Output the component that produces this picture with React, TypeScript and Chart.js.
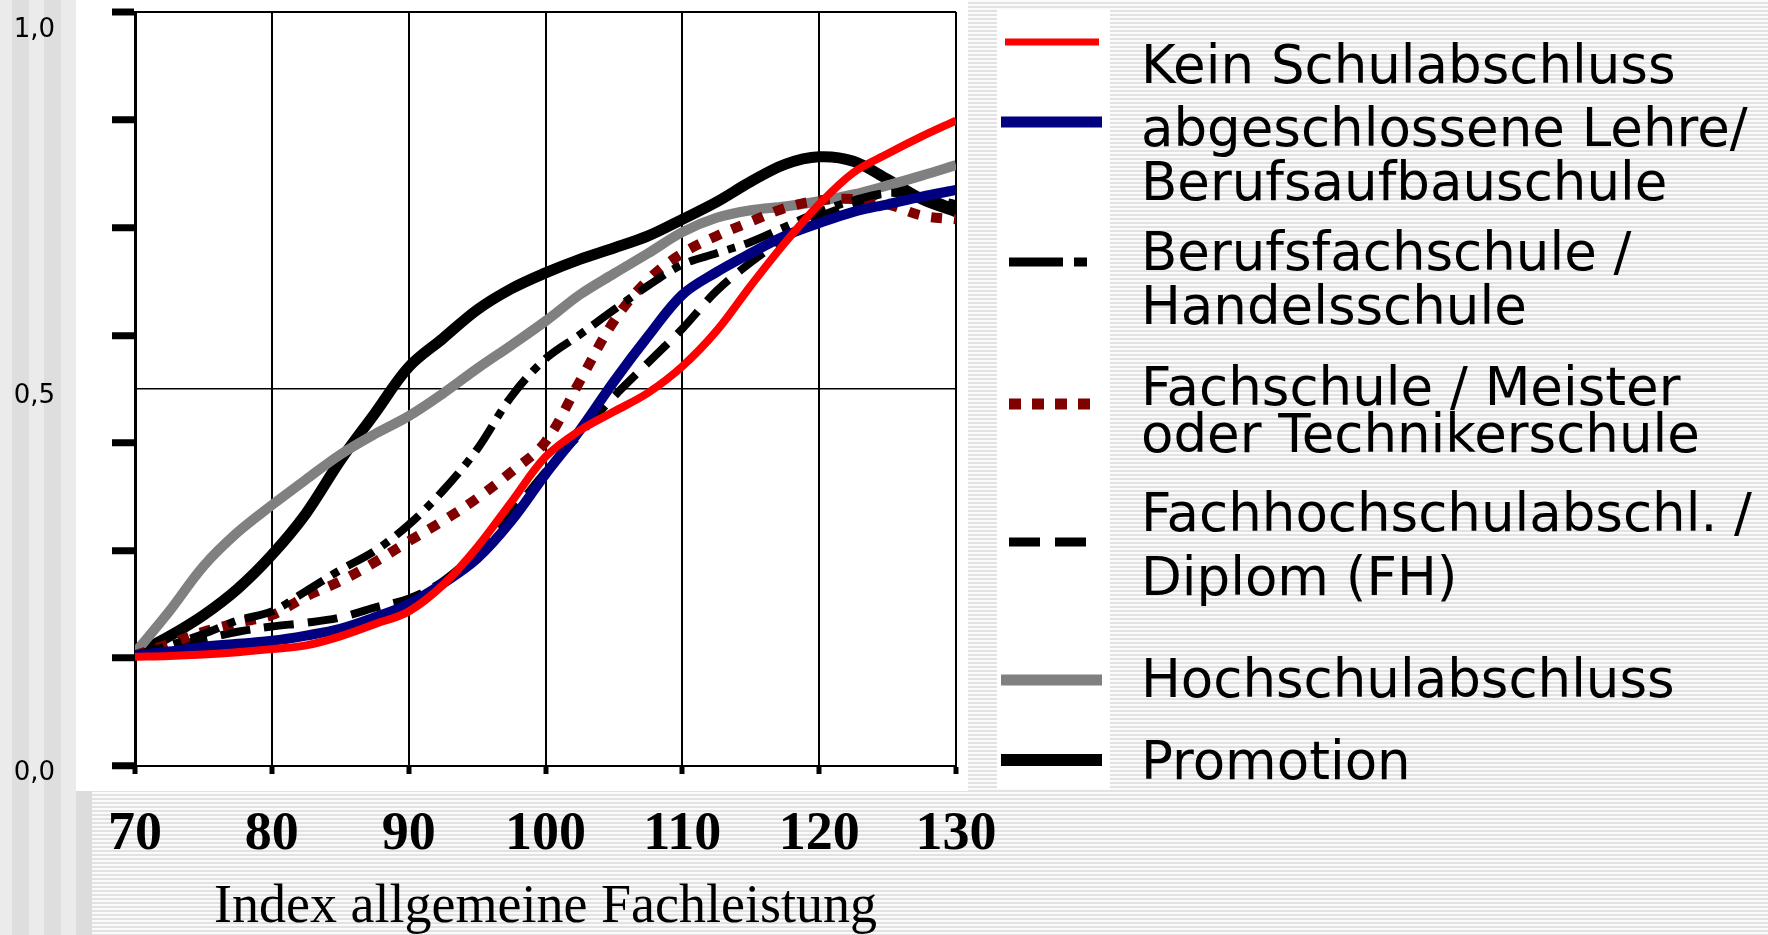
import React, { useEffect, useRef } from 'react';
import { Chart, registerables } from 'chart.js';

Chart.register(...registerables);

// ---- data ----
const xValues = [70, 72.5, 75, 77.5, 80, 82.5, 85, 87.5, 90, 92.5, 95, 97.5, 100, 102.5, 105, 107.5, 110, 112.5, 115, 117.5, 120, 122.5, 125, 127.5, 130];

const keinSchulabschluss = [0.145, 0.146, 0.148, 0.151, 0.155, 0.160, 0.172, 0.188, 0.205, 0.240, 0.290, 0.350, 0.410, 0.445, 0.470, 0.495, 0.530, 0.577, 0.637, 0.694, 0.745, 0.787, 0.812, 0.835, 0.856];
const lehre = [0.147, 0.152, 0.158, 0.162, 0.166, 0.173, 0.182, 0.197, 0.215, 0.242, 0.275, 0.325, 0.387, 0.445, 0.510, 0.570, 0.625, 0.655, 0.680, 0.703, 0.720, 0.735, 0.745, 0.755, 0.764];
const berufsfachschule = [0.147, 0.160, 0.175, 0.193, 0.205, 0.232, 0.260, 0.285, 0.320, 0.365, 0.420, 0.490, 0.540, 0.572, 0.605, 0.637, 0.665, 0.680, 0.695, 0.715, 0.735, 0.750, 0.760, 0.755, 0.745];
const fachschule = [0.147, 0.162, 0.178, 0.190, 0.200, 0.225, 0.245, 0.270, 0.298, 0.325, 0.355, 0.390, 0.430, 0.510, 0.590, 0.645, 0.680, 0.703, 0.722, 0.740, 0.750, 0.752, 0.745, 0.730, 0.725];
const fachhochschule = [0.147, 0.158, 0.168, 0.178, 0.185, 0.190, 0.197, 0.210, 0.222, 0.245, 0.285, 0.335, 0.390, 0.440, 0.490, 0.535, 0.580, 0.630, 0.668, 0.700, 0.728, 0.745, 0.760, 0.755, 0.740];
const hochschule = [0.150, 0.205, 0.265, 0.310, 0.346, 0.380, 0.413, 0.440, 0.464, 0.494, 0.527, 0.558, 0.590, 0.625, 0.653, 0.680, 0.708, 0.727, 0.737, 0.742, 0.749, 0.758, 0.770, 0.783, 0.797];
const promotion = [0.148, 0.172, 0.200, 0.235, 0.280, 0.335, 0.405, 0.467, 0.529, 0.567, 0.605, 0.633, 0.654, 0.672, 0.687, 0.703, 0.725, 0.748, 0.775, 0.798, 0.808, 0.802, 0.778, 0.752, 0.735];

const seriesNames = [
  'Kein Schulabschluss',
  'abgeschlossene Lehre/ Berufsaufbauschule',
  'Berufsfachschule / Handelsschule',
  'Fachschule / Meister oder Technikerschule',
  'Fachhochschulabschl. / Diplom (FH)',
  'Hochschulabschluss',
  'Promotion',
];
const seriesValues = [keinSchulabschluss, lehre, berufsfachschule, fachschule, fachhochschule, hochschule, promotion];

const legendTextLines = [
  ['Kein Schulabschluss'],
  ['abgeschlossene Lehre/', 'Berufsaufbauschule'],
  ['Berufsfachschule /', 'Handelsschule'],
  ['Fachschule / Meister', 'oder Technikerschule'],
  ['Fachhochschulabschl. /', 'Diplom (FH)'],
  ['Hochschulabschluss'],
  ['Promotion'],
];

const xTicks = [70, 80, 90, 100, 110, 120, 130];
const yMarkTicks = [0, 0.143, 0.286, 0.429, 0.571, 0.714, 0.857, 1];
const yLabelTicks = [0, 0.5, 1];
const yLabelTexts = ['0,0', '0,5', '1,0'];
const xTitle = 'Index allgemeine Fachleistung';

// ---- styles ----
const colors = ['#ff0000', '#000080', '#000000', '#800000', '#000000', '#808080', '#000000'];
const lineWidths = [8, 10, 8, 10, 8, 10, 11];
const dashes: number[][] = [[], [], [30, 10, 8, 10], [11, 12], [30, 14], [], []];
const legendWidths = [7, 11, 9, 11, 9, 11, 12];
const legendDashes: number[][] = [[], [], [54, 11, 13, 100], [12, 11], [31, 15], [], []];
const legendX1 = [1005, 1001, 1009, 1009, 1009, 1001, 1001];
const legendX2 = [1099, 1102, 1087, 1090, 1086, 1102, 1102];
const legendSymbolY = [42, 122, 262, 404, 542, 680, 760];
const legendTextCapY = [[63], [126, 180], [250, 304], [385, 432], [511, 575], [677], [759]];

const near = (a: number, b: number) => Math.abs(a - b) < 1e-6;

export default function App() {
  const ref = useRef<HTMLCanvasElement>(null);

  useEffect(() => {
    document.body.style.margin = '0';
    const canvas = ref.current;
    if (!canvas) return;
    const datasets = seriesNames.map((name, i) => ({
      label: name,
      data: xValues.map((x, j) => ({ x, y: seriesValues[i][j] })),
      borderColor: colors[i],
      backgroundColor: colors[i],
      borderWidth: lineWidths[i],
      borderDash: dashes[i],
      pointRadius: 0,
      tension: 0.35,
      fill: false,
    }));
    const chart = new Chart(canvas, {
      type: 'line',
      data: { datasets },
      options: {
        animation: false,
        responsive: false,
        devicePixelRatio: 1,
        layout: { padding: { left: 0, top: 12, right: 1768 - 956, bottom: 0 } },
        plugins: { legend: { display: false }, tooltip: { enabled: false } },
        scales: {
          x: {
            type: 'linear',
            min: 70,
            max: 130,
            afterBuildTicks: (s: any) => { s.ticks = xTicks.map((v) => ({ value: v })); },
            afterFit: (s: any) => { s.height = 935 - 766; },
            ticks: {
              autoSkip: false,
              maxRotation: 0,
              padding: 29,
              color: '#000',
              font: { family: 'Liberation Serif', size: 54, weight: 'bold', lineHeight: 1.2 },
            },
            grid: { color: '#000', lineWidth: 2, tickLength: 8, tickWidth: 5, tickColor: '#000' },
            border: { display: true, color: '#000', width: 2 },
            title: {
              display: true,
              text: xTitle,
              color: '#000',
              font: { family: 'Liberation Serif', size: 54, lineHeight: 1 },
              padding: { top: 0, bottom: 0 },
            },
          },
          y: {
            type: 'linear',
            min: 0,
            max: 1,
            afterBuildTicks: (s: any) => {
              const vals = [...yMarkTicks, 0.5].sort((a, b) => a - b);
              s.ticks = vals.map((v) => ({ value: v }));
            },
            afterFit: (s: any) => {
              s.width = 135;
              s.paddingTop = 0;
              s.paddingBottom = 0;
            },
            ticks: {
              autoSkip: false,
              padding: 57,
              labelOffset: 7,
              color: '#000',
              font: { family: 'DejaVu Sans', size: 26, lineHeight: 0.9 },
              callback: (v: any) => {
                const idx = yLabelTicks.findIndex((t) => near(t, Number(v)));
                if (idx < 0) return '';
                // the top label sits one half line below the top edge in the original
                return idx === yLabelTicks.length - 1 ? ['', yLabelTexts[idx]] : yLabelTexts[idx];
              },
            },
            grid: {
              color: (c: any) => (c.tick && (near(c.tick.value, 0.5) || near(c.tick.value, 1)) ? '#000' : 'rgba(0,0,0,0)'),
              lineWidth: (c: any) => (c.tick && near(c.tick.value, 1) ? 2 : 1.5),
              tickColor: (c: any) => (c.tick && near(c.tick.value, 0.5) ? 'rgba(0,0,0,0)' : '#000'),
              tickWidth: 7,
              tickLength: 23,
            },
            border: { display: true, color: '#000', width: 3 },
          },
        },
      },
    });
    return () => chart.destroy();
  }, []);

  const hStripes = 'repeating-linear-gradient(to bottom, #fbfbfb 0px, #fbfbfb 2px, #e2e2e2 2px, #e2e2e2 4px)';
  const vStripes = 'linear-gradient(to right, #ebebeb 0px, #ebebeb 12px, #dedede 12px, #dedede 29px, #ebebeb 29px, #ebebeb 44px, #dedede 44px, #dedede 61px, #ebebeb 61px, #ebebeb 76px)';

  return (
    <div style={{ position: 'fixed', left: 0, top: 0, width: 1768, height: 935, overflow: 'hidden', background: hStripes }}>
      <div style={{ position: 'absolute', left: 0, top: 0, width: 76, height: 935, background: vStripes }} />
      <div style={{ position: 'absolute', left: 76, top: 0, width: 892, height: 791, background: '#ffffff' }} />
      <div style={{ position: 'absolute', left: 76, top: 791, width: 16, height: 144, background: '#dcdcdc' }} />
      <div style={{ position: 'absolute', left: 997, top: 10, width: 113, height: 778, background: '#ffffff' }} />
      <canvas ref={ref} width={1768} height={935} style={{ position: 'absolute', left: 0, top: 0, width: 1768, height: 935 }} />
      <svg width={1768} height={935} style={{ position: 'absolute', left: 0, top: 0 }}>
        {seriesNames.map((name, i) => (
          <line
            key={name}
            x1={legendX1[i]}
            x2={legendX2[i]}
            y1={legendSymbolY[i]}
            y2={legendSymbolY[i]}
            stroke={colors[i]}
            strokeWidth={legendWidths[i]}
            strokeDasharray={legendDashes[i].length ? legendDashes[i].join(' ') : undefined}
          />
        ))}
      </svg>
      {legendTextLines.map((lines, i) =>
        lines.map((t, j) => (
          <div
            key={`${i}-${j}`}
            style={{
              position: 'absolute',
              left: 1141,
              top: legendTextCapY[i][j] - 25.5,
              fontFamily: 'DejaVu Sans',
              fontSize: 53,
              lineHeight: '53px',
              color: '#000',
              whiteSpace: 'nowrap',
            }}
          >
            {t}
          </div>
        ))
      )}
    </div>
  );
}
